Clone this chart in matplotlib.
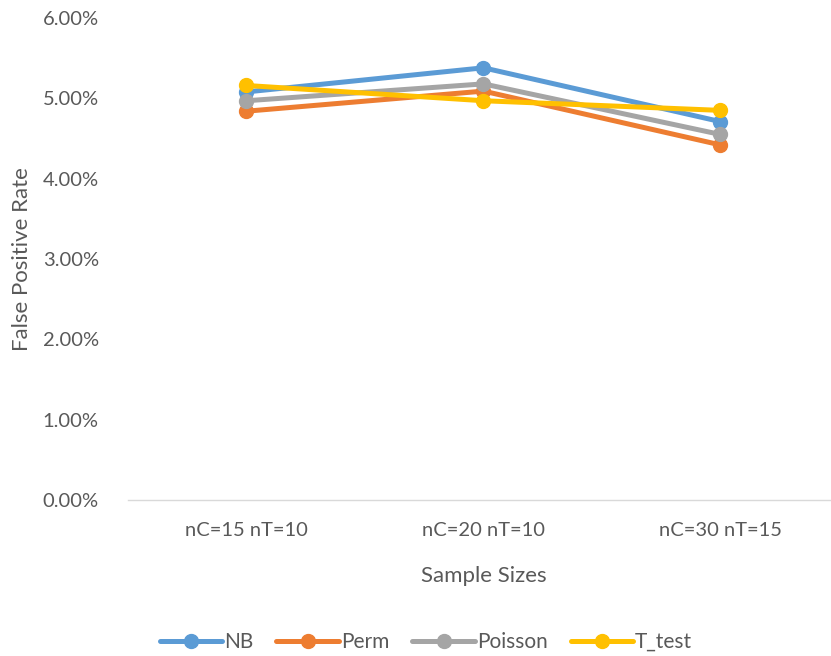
import matplotlib
matplotlib.use("Agg")
import matplotlib.pyplot as plt
from matplotlib.ticker import FuncFormatter

categories = ["nC=15 nT=10", "nC=20 nT=10", "nC=30 nT=15"]
series_names = ["NB", "Perm", "Poisson", "T_test"]
nb = [5.08, 5.38, 4.71]
perm = [4.84, 5.09, 4.42]
poisson = [4.97, 5.18, 4.55]
t_test = [5.16, 4.97, 4.85]
colors = ["#5B9BD5", "#ED7D31", "#A5A5A5", "#FFC000"]

plt.rcParams['font.family'] = ['Lato', 'DejaVu Sans']
text_color = "#595959"

fig = plt.figure(figsize=(8.31, 6.56), dpi=100)
ax = fig.add_axes([128 / 831, 156 / 656, 711 / 831, 482 / 656])

x = list(range(len(categories)))
for name, vals, c in zip(series_names, [nb, perm, poisson, t_test], colors):
    ax.plot(x, vals, color=c, linewidth=3.6, marker="o", markersize=10,
            label=name, solid_capstyle="round", solid_joinstyle="round")

ax.set_xlim(-0.5, 2.5)
ax.set_ylim(0, 6)
ax.set_yticks([0, 1, 2, 3, 4, 5, 6])
ax.yaxis.set_major_formatter(FuncFormatter(lambda v, p: f"{v:.2f}%"))
ax.set_xticks(x)
ax.set_xticklabels(categories)

for s in ["top", "right", "left"]:
    ax.spines[s].set_visible(False)
ax.spines["bottom"].set_color("#D9D9D9")
ax.spines["bottom"].set_linewidth(1.0)
ax.tick_params(axis="both", length=0, labelsize=14.5, colors=text_color)
ax.tick_params(axis="y", pad=21)
ax.tick_params(axis="x", pad=16)

ax.set_xlabel("Sample Sizes", fontsize=16, color=text_color, labelpad=19)
ax.set_ylabel("False Positive Rate", fontsize=16, color=text_color, labelpad=8)

fig.legend(loc="center", bbox_to_anchor=(426 / 831, 1 - 642 / 656), ncol=4,
           frameon=False, fontsize=15, handlelength=3.0, handletextpad=0.1,
           columnspacing=1.1, labelcolor=text_color)

fig.savefig("out.png", dpi=100)
